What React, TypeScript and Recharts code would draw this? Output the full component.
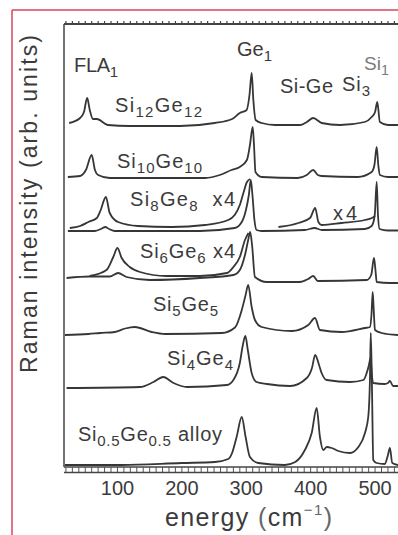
import React from 'react';
import { LineChart, Line, XAxis, YAxis } from 'recharts';

const FONT = '"Liberation Sans", Arial, Helvetica, sans-serif';
const INK = '#3b3b3b';

// energy axis (cm^-1)
const energyDomain: [number, number] = [17, 535.6];
const majorTicks = [100, 200, 300, 400, 500];
const minorTicks = [20, 30, 40, 50, 60, 70, 80, 90, 100, 110, 120, 130, 140, 150, 160, 170, 180, 190, 200,
  210, 220, 230, 240, 250, 260, 270, 280, 290, 300, 310, 320, 330, 340, 350, 360, 370, 380, 390, 400,
  410, 420, 430, 440, 450, 460, 470, 480, 490, 500, 510, 520, 530];

type Pt = { e: number; v: number };
const pts = (rows: number[][]): Pt[] => rows.map(([e, v]) => ({ e, v }));

// stacked, offset spectra (arb. units)
const si12Ge12 = pts([[25, 344], [42, 349], [48, 355], [53, 369], [57, 357], [62, 348], [68, 348], [85, 342], [119, 341],
  [197, 341], [251, 344], [278, 348], [290, 354], [300.6, 357], [305, 372], [308.4, 394], [311, 367], [314.6, 347],
  [324, 344], [344.6, 342], [383.4, 342], [394, 345], [404, 349], [417, 344], [445.5, 342], [484, 345], [494.7, 350],
  [500, 355], [503.4, 365], [507.5, 345], [520, 342], [535.6, 342]]);

const si10Ge10 = pts([[23, 290], [42, 291], [51, 297], [60, 312], [65, 297], [70, 292], [88, 289], [150, 289], [236, 289],
  [259, 292], [277, 297], [290, 300], [301, 307], [305.7, 322], [310, 340], [312, 322], [314.3, 295], [324, 290],
  [380, 289], [394, 292], [404, 297], [411, 292], [417, 291], [473, 290], [494.7, 295], [499, 302], [502.5, 320],
  [505, 302], [507.5, 292], [520, 290], [535.6, 290]]);

const si8Ge8 = pts([[23, 236], [65, 236], [76, 238.5], [81, 240], [87, 238], [96, 236], [228, 236], [282, 239], [293, 245],
  [299.5, 257], [304, 272], [307, 287], [309.6, 272], [312.7, 247], [316, 237], [324, 236], [391, 237], [406, 239],
  [417.5, 237], [484, 238], [494.7, 241], [499.5, 252], [502.5, 285], [504.5, 252], [507, 238], [520, 236.5], [535.6, 236.5]]);

const si8Ge8x4Low = pts([[26, 239], [42, 241], [55, 245], [68, 249], [74, 257], [82, 270], [88, 254], [101, 245], [132, 241],
  [184, 240], [236, 242], [272, 247], [282, 252], [290, 262], [296, 275], [301, 285], [306, 288]]);

const si8Ge8x4High = pts([[350, 240], [381, 244], [399, 249], [407, 259], [412, 245], [417, 242], [448, 244], [484, 247],
  [495, 249], [500, 251]]);

const si6Ge6 = pts([[21, 189], [57, 190.5], [88, 190.5], [101, 194], [114, 190], [150, 187], [228, 189], [280, 192], [290, 197],
  [298, 212], [303, 227], [306, 235], [309, 222], [313.5, 190], [332, 185], [383, 185], [396, 188], [404, 191], [411, 186],
  [487, 187], [494, 192], [498.3, 209], [500.6, 197], [502.5, 185], [523, 184], [535.6, 184]]);

const si6Ge6x4 = pts([[57, 191], [83, 197], [93.5, 210], [100, 219], [106.5, 209], [119, 200], [135, 195], [176, 191],
  [228, 191], [270, 194], [280, 200], [290, 210], [298, 227], [303.4, 234]]);

const si5Ge5 = pts([[18.5, 132], [55, 133], [73, 134], [96, 135], [112, 138.5], [127, 140], [153, 135], [174, 133], [262, 134],
  [282.5, 139.5], [293, 157], [299, 172], [303, 182], [308.4, 160], [313.5, 147], [324, 140], [370.5, 136], [396.3, 142],
  [406.7, 149], [414.4, 137], [448, 135], [484.3, 139], [492, 140], [494.4, 152], [496.3, 175], [498.3, 152], [499.8, 137],
  [510, 134], [535.6, 132]]);

const si4Ge4 = pts([[21, 79], [135, 80], [156, 85], [171, 90], [187, 84], [208, 80], [270, 82], [280, 87], [290, 104],
  [294.7, 122], [298.6, 131], [302.4, 117], [308.4, 94], [316, 85], [332, 83], [368, 81], [394, 89], [402, 99], [407, 112],
  [413, 102], [417, 94], [425, 87], [461, 85], [482, 87], [487, 94], [490.5, 102], [493, 109], [495, 92], [497, 84],
  [515, 83], [520, 84], [523, 86], [528, 81], [535.6, 81]]);

const alloy = pts([[18.5, 2], [106, 2], [200, 4], [251, 5], [272, 8], [278, 14], [285, 30], [293, 50], [299, 30], [305.7, 10],
  [318.6, 4], [360, 2], [376, 5], [391, 17], [401.6, 34], [409.3, 59], [414.4, 30], [419.6, 17], [425, 20], [432.6, 19],
  [443, 16], [461, 14], [474, 20], [484.3, 34], [489.4, 50], [492, 87], [493.3, 134], [495, 87], [497.2, 7], [502.5, 4],
  [515, 3], [520, 12], [523, 19], [526.7, 4], [535.6, 2]]);

// upper group drawn against the top ruler axis, lower group against the bottom axis (identical scales)
const upperSeries: Pt[][] = [si12Ge12, si10Ge10, si8Ge8, si8Ge8x4Low, si8Ge8x4High];
const lowerSeries: Pt[][] = [si6Ge6, si6Ge6x4, si5Ge5, si4Ge4, alloy];

type Part = [string, 'n' | 's'];

function Lbl({ x, y, parts, len, size = 20, fill = INK }: { x: number; y: number; parts: Part[]; len?: number; size?: number; fill?: string }) {
  let prevSub = false;
  return (
    <text x={x} y={y} fontSize={size} fill={fill} fontFamily={FONT} textLength={len} lengthAdjust="spacing" style={{ whiteSpace: 'pre' }}>
      {parts.map(([t, k], i) => {
        const isSub = k === 's';
        const dy = isSub && !prevSub ? 5 : !isSub && prevSub ? -5 : 0;
        prevSub = isSub;
        return (
          <tspan key={i} dy={dy} fontSize={isSub ? size * 0.75 : size}>{t}</tspan>
        );
      })}
    </text>
  );
}

const majorOnly = (v: number) => (majorTicks.includes(v) ? String(v) : '');
const blank = () => '';

export default function App() {
  return (
    <div style={{ position: 'absolute', left: 0, top: 0, width: 398, height: 535, background: '#fff', overflow: 'hidden' }}>
      <LineChart width={398} height={535} margin={{ top: 20, right: 0, bottom: 0, left: 0 }}>
        <XAxis xAxisId="bottom" type="number" dataKey="e" domain={energyDomain} allowDataOverflow ticks={minorTicks} interval={0}
          orientation="bottom" height={68} tickSize={5} tickMargin={9} tickFormatter={majorOnly}
          axisLine={{ stroke: '#444', strokeWidth: 1.5 }} tickLine={{ stroke: '#555', strokeWidth: 1 }}
          tick={{ fontSize: 20, fill: INK, fontFamily: FONT }} />
        <XAxis xAxisId="top" type="number" dataKey="e" domain={energyDomain} allowDataOverflow ticks={minorTicks} interval={0}
          orientation="top" height={4} tickFormatter={blank} tickSize={3} tickMargin={0}
          axisLine={{ stroke: '#444', strokeWidth: 2 }} tickLine={{ stroke: '#444', strokeWidth: 1.2 }}
          tick={{ fontSize: 1, fill: 'none' }} />
        <YAxis yAxisId="y" type="number" domain={[0, 443]} allowDataOverflow width={64} tick={false} tickLine={false}
          axisLine={{ stroke: '#444', strokeWidth: 1.5 }} />
        {upperSeries.map((d, i) => (
          <Line key={'u' + i} xAxisId="top" yAxisId="y" data={d} dataKey="v" type="monotone" dot={false} activeDot={false}
            isAnimationActive={false} stroke="#363636" strokeWidth={1.8} />
        ))}
        {lowerSeries.map((d, i) => (
          <Line key={'l' + i} xAxisId="bottom" yAxisId="y" data={d} dataKey="v" type="monotone" dot={false} activeDot={false}
            isAnimationActive={false} stroke="#363636" strokeWidth={1.8} />
        ))}
      </LineChart>
      <svg width={398} height={535} style={{ position: 'absolute', left: 0, top: 0, pointerEvents: 'none' }}>
        <line x1={12} y1={10} x2={398} y2={10} stroke="#d8465f" strokeWidth={1.5} />
        <line x1={12} y1={10} x2={12} y2={535} stroke="#d8465f" strokeWidth={1.5} />
        <line x1={64} y1={472.5} x2={398} y2={472.5} stroke="#444" strokeWidth={1.3} />
        <Lbl x={74} y={72} parts={[['FLA', 'n'], ['1', 's']]} len={44} />
        <Lbl x={237} y={56} parts={[['Ge', 'n'], ['1', 's']]} len={35} />
        <Lbl x={280} y={93} parts={[['Si-Ge', 'n']]} len={53} />
        <Lbl x={342} y={91} parts={[['Si', 'n'], ['3', 's']]} len={28} />
        <Lbl x={364} y={70} parts={[['Si', 'n'], ['1', 's']]} len={25} size={19} fill="#7a7a7a" />
        <Lbl x={115} y={112} parts={[['Si', 'n'], ['12', 's'], ['Ge', 'n'], ['12', 's']]} len={87} />
        <Lbl x={117} y={168} parts={[['Si', 'n'], ['10', 's'], ['Ge', 'n'], ['10', 's']]} len={85} />
        <Lbl x={130} y={206} parts={[['Si', 'n'], ['8', 's'], ['Ge', 'n'], ['8', 's'], ['  x4', 'n']]} len={105} />
        <Lbl x={333} y={220} parts={[['x4', 'n']]} len={24} />
        <Lbl x={140} y={258} parts={[['Si', 'n'], ['6', 's'], ['Ge', 'n'], ['6', 's'], [' x4', 'n']]} len={95} />
        <Lbl x={153} y={311} parts={[['Si', 'n'], ['5', 's'], ['Ge', 'n'], ['5', 's']]} len={65} />
        <Lbl x={167} y={365} parts={[['Si', 'n'], ['4', 's'], ['Ge', 'n'], ['4', 's']]} len={66} />
        <Lbl x={78} y={441} parts={[['Si', 'n'], ['0.5', 's'], ['Ge', 'n'], ['0.5', 's'], [' alloy', 'n']]} len={144} />
        <text transform="translate(37,204) rotate(-90)" textAnchor="middle" fontSize={23} fill={INK} fontFamily={FONT}
          textLength={338} lengthAdjust="spacing">Raman intensity (arb. units)</text>
        <text x={165} y={526} fontSize={25} fill={INK} fontFamily={FONT} textLength={167} lengthAdjust="spacing">
          energy<tspan fill="#666"> (</tspan>cm<tspan fontSize={15} dy={-11} fill="#666">−1</tspan><tspan dy={11} fill="#666">)</tspan>
        </text>
      </svg>
    </div>
  );
}
